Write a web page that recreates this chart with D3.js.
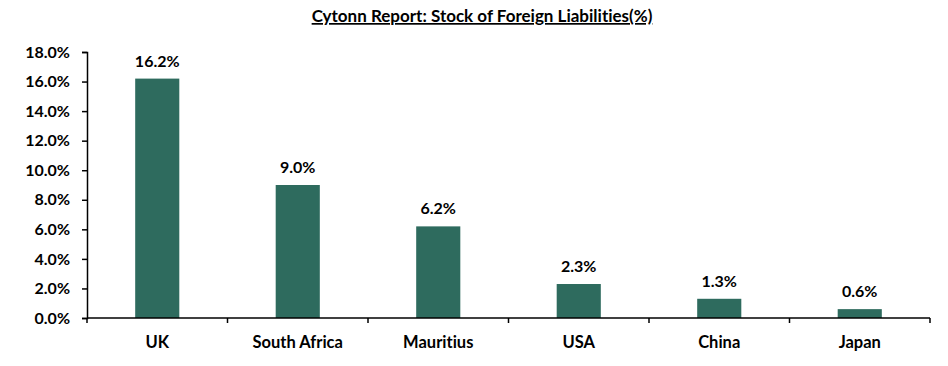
<!DOCTYPE html>
<html><head><meta charset="utf-8">
<script src="https://cdn.jsdelivr.net/npm/d3@7"></script>
<style>body{margin:0;background:#fff;}svg{display:block;font-family:Lato,"Open Sans",sans-serif;font-variant-ligatures:none;font-feature-settings:"liga" 0,"dlig" 0;}</style>
</head><body><svg id="c" width="948" height="366"></svg>
<script>
const categories = ["UK","South Africa","Mauritius","USA","China","Japan"];
const values = [16.2, 9.0, 6.2, 2.3, 1.3, 0.6];
const yTicks = [0,2,4,6,8,10,12,14,16,18];
const title = "Cytonn Report: Stock of Foreign Liabilities(%)";

(function(){
const svg = d3.select("#c");
const mL = 87, mR = 930, mT = 52, mB = 318;
const x = d3.scaleBand().domain(categories).range([mL, mR]).paddingInner(0.686).paddingOuter(0.343);
const xb = d3.scaleBand().domain(categories).range([mL, mR]);
const y = d3.scaleLinear().domain([0, 18]).range([mB, mT]);

svg.append("text").attr("x", 482).attr("y", 22).attr("text-anchor","middle")
  .attr("font-size", 17).attr("font-weight","bold").attr("text-decoration","underline").text(title);

const ya = svg.append("g").attr("transform", `translate(${mL},0)`)
  .call(d3.axisLeft(y).tickValues(yTicks).tickFormat(d => d.toFixed(1) + "%").tickSizeOuter(0).tickSize(5).tickPadding(12));
ya.select(".domain").attr("stroke","#000").attr("stroke-width",1.5);
ya.selectAll(".tick line").attr("stroke","#000").attr("stroke-width",1.5);
ya.selectAll(".tick text").attr("font-size",16).attr("font-weight","bold").attr("fill","#000").attr("font-family","Lato");

svg.append("g").selectAll("rect").data(values).join("rect")
  .attr("x",(d,i)=>x(categories[i])).attr("width",x.bandwidth())
  .attr("y",d=>y(d)).attr("height",d=>mB-y(d)).attr("fill","#2E6B5E");

const xa = svg.append("g").attr("transform", `translate(0,${mB})`);
xa.append("line").attr("x1",mL).attr("x2",mR).attr("y1",0).attr("y2",0).attr("stroke","#000").attr("stroke-width",1.5);
const bounds = categories.map(c => xb(c)).concat([mR]);
xa.selectAll("line.t").data(bounds).join("line").attr("class","t")
  .attr("x1",d=>d).attr("x2",d=>d).attr("y1",0).attr("y2",5).attr("stroke","#000").attr("stroke-width",1.5);
xa.selectAll("text").data(categories).join("text")
  .attr("x",d=>xb(d)+xb.bandwidth()/2).attr("y",30).attr("text-anchor","middle")
  .attr("font-size",16.5).attr("font-weight","bold").text(d=>d);

svg.append("g").selectAll("text").data(values).join("text")
  .attr("x",(d,i)=>x(categories[i])+x.bandwidth()/2).attr("y",d=>y(d)-12)
  .attr("text-anchor","middle").attr("font-size",16).attr("font-weight","bold").text(d=>d.toFixed(1)+"%");
})();
</script></body></html>
